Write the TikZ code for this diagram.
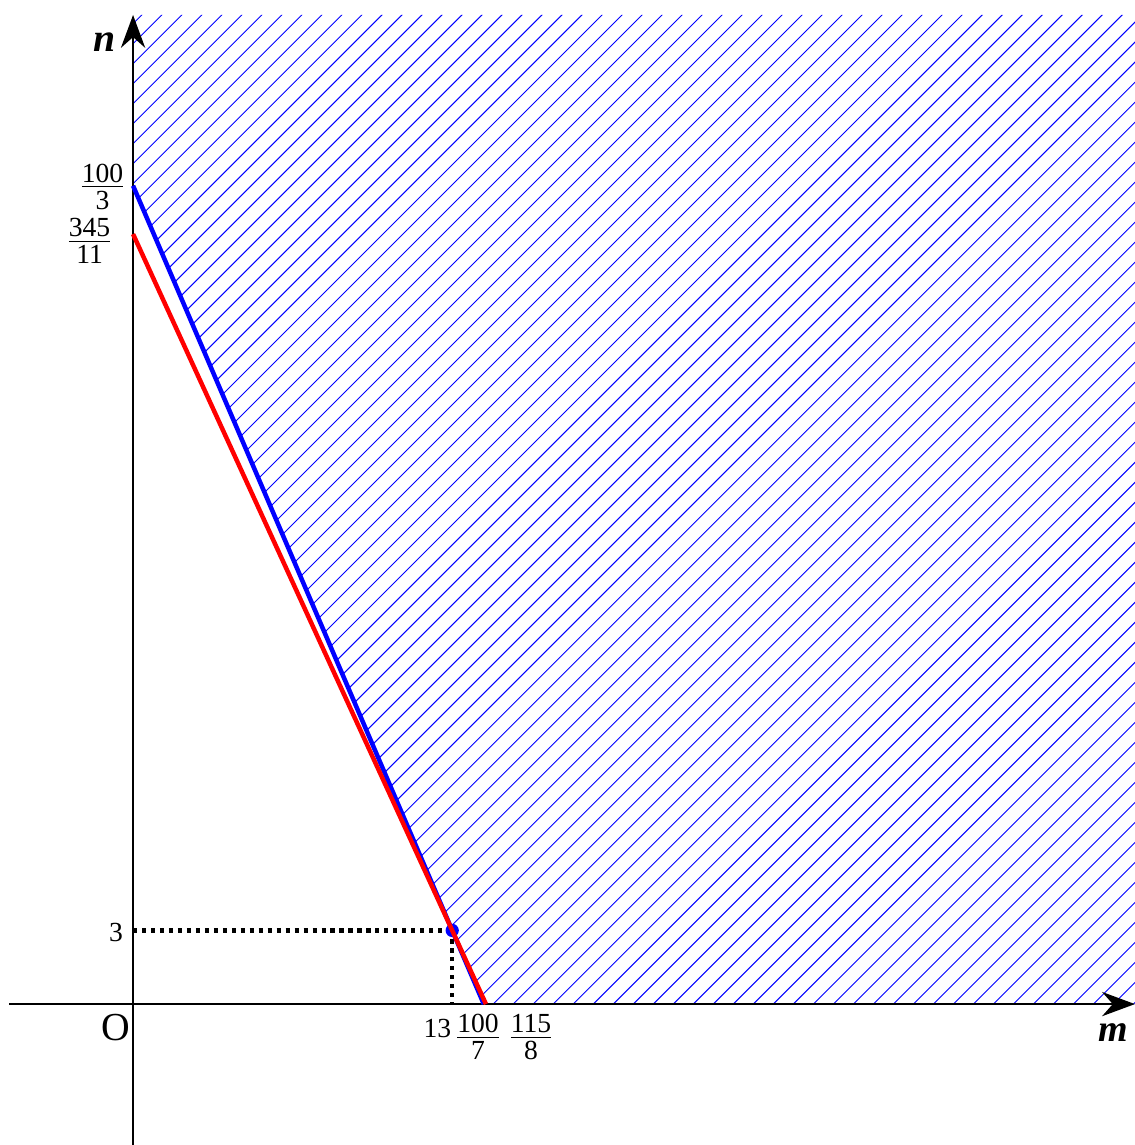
\documentclass[tikz,border=0pt]{standalone}
\usepackage{fontspec}
\setmainfont{Liberation Serif}
\usetikzlibrary{arrows.meta}
\newcommand{\numfont}{\fontsize{16}{18}\selectfont}
\newcommand{\fr}[2]{$\frac{\mbox{#1}}{\mbox{\rule{0pt}{12.5pt}#2}}$}
\begin{document}
\begin{tikzpicture}[x=0.5cm,y=0.5cm,>={Stealth[length=19pt,width=14pt]},
  axis/.style={line width=1.5pt,->},
  hatch/.style={blue,line width=0.55pt},
  guide/.style={line width=2.4pt,dash pattern=on 2.4pt off 2.8pt},
  tick/.style={font=\numfont,inner sep=0pt}]
  \useasboundingbox (-5.42,-5.74) rectangle (40.81,40.90);
  \coordinate (O) at (0,0);
  \coordinate (A) at (0,100/3);
  \coordinate (B) at (100/7,0);
  \coordinate (C) at (0,345/11);
  \coordinate (D) at (115/8,0);
  \coordinate (P) at (13,3);
  \coordinate (P0) at (0,3);
  \coordinate (P1) at (13,0);
  \coordinate (mtip) at (40.81,0);
  \coordinate (mtail) at (-5.05,0);
  \coordinate (ntip) at (0,40.29);
  \coordinate (ntail) at (0,-5.74);
  % hatched region
  \begin{scope}
    \clip (A) -- (P) -- (D) -- (mtip) -- (40.81,40.29) -- (ntip) -- cycle;
    \foreach \i in {-52,...,52}
      \draw[hatch] (\i*0.815-1,-1) -- (\i*0.815+42,42);
  \end{scope}
  % axes
  \draw[axis] (mtail) -- (mtip);
  \draw[axis] (ntail) -- (ntip);
  \node (nlabel) at (-1.18,39.19) {\fontsize{23}{26}\selectfont\textbf{\textit{n}}};
  \node (mlabel) at (39.92,-1.14) {\fontsize{22}{26}\selectfont\textbf{\textit{m}}};
  \node (olabel) at (-0.69,-0.94) {\fontsize{23}{26}\selectfont O};
  % guides
  \draw[guide] (P0) -- (P);
  \draw[guide] (P) -- (P1);
  % boundary lines
  \draw[blue,line width=2.6pt] (A) -- (B);
  \fill[blue] (P) circle (0.27);
  \draw[red,line width=2.6pt] (C) -- (D);
  % tick labels
  \node[tick,anchor=east] (a3) at (-0.3,33.3) {\fr{100}{3}};
  \node[tick,anchor=east] (c11) at (-0.83,31.08) {\fr{345}{11}};
  \node[tick] (n3) at (-0.69,2.9) {3};
  \node[tick] (m13) at (12.4,-1.0) {13};
  \node[tick] (b7) at (14.05,-1.35) {\fr{100}{7}};
  \node[tick] (d8) at (16.21,-1.35) {\fr{115}{8}};
\end{tikzpicture}
\end{document}
